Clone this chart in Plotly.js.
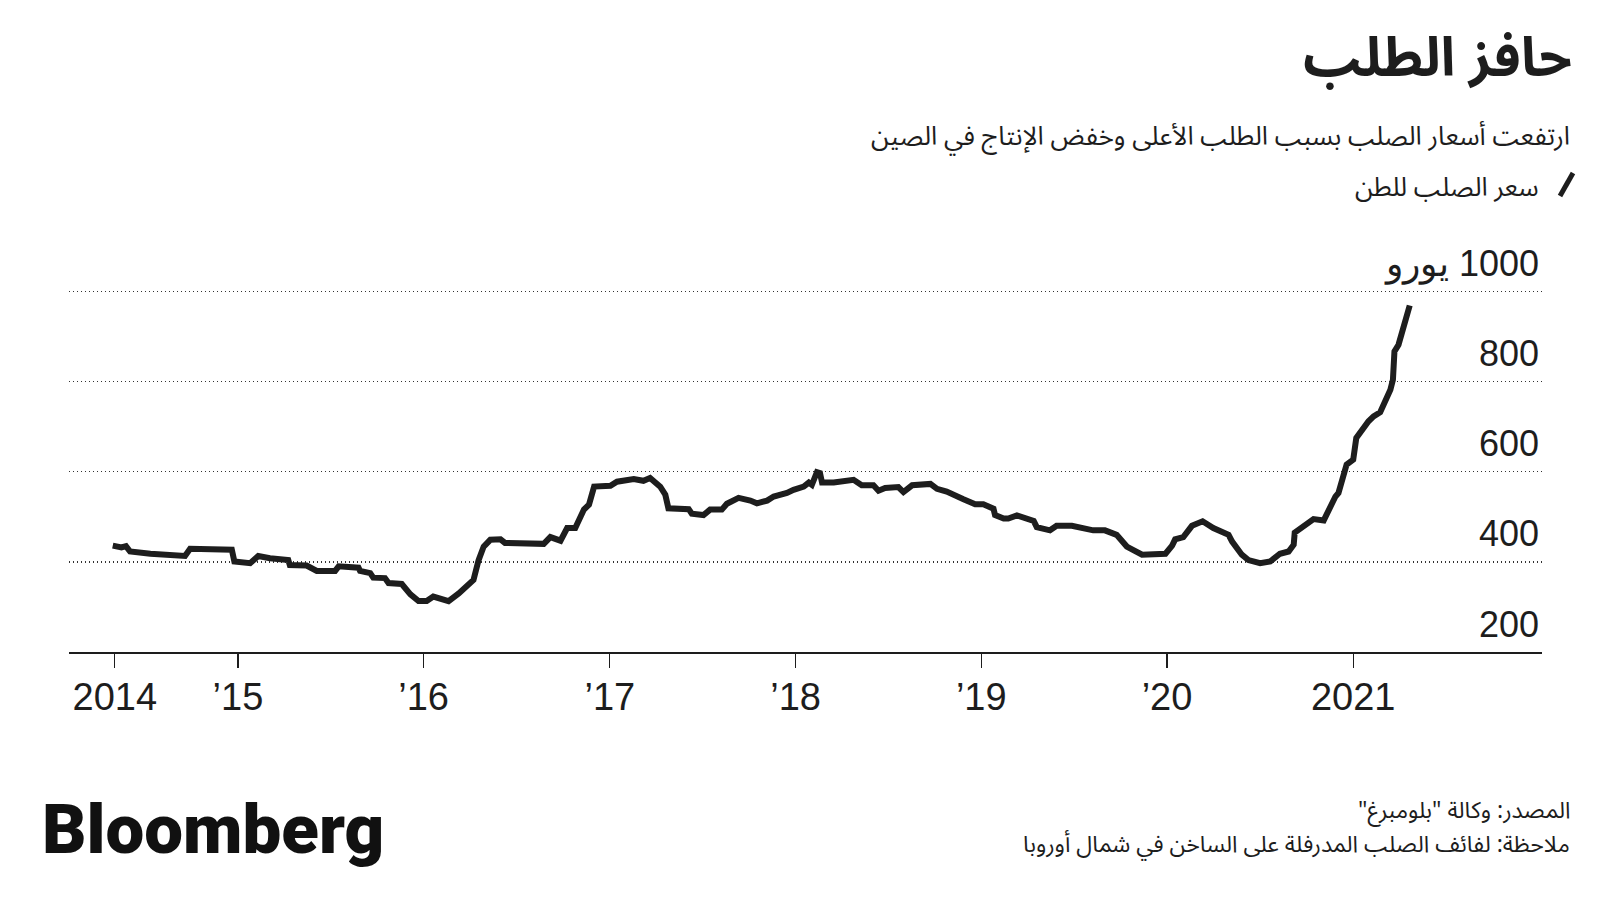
<!DOCTYPE html>
<html>
<head>
<meta charset="utf-8">
<script src="https://cdn.plot.ly/plotly-3.0.1.min.js"></script>
<style>
  html, body { margin: 0; padding: 0; background: #ffffff; }
  #chart { width: 1600px; height: 900px; }
</style>
</head>
<body>
<div id="chart"></div>
<script>
// ---- Data ----
const dates = [
  '2014-04-30','2014-05-17','2014-05-26','2014-06-03','2014-07-13','2014-09-19','2014-09-29','2014-12-20','2014-12-25',
  '2015-01-25','2015-02-10','2015-03-05','2015-04-10','2015-04-13','2015-05-16','2015-06-05','2015-07-11','2015-07-18',
  '2015-08-26','2015-08-29','2015-09-18','2015-09-24','2015-10-17','2015-10-24','2015-11-19','2015-12-06','2015-12-22',
  '2016-01-07','2016-01-20','2016-02-19','2016-03-10','2016-04-08','2016-04-18','2016-04-28','2016-05-11','2016-05-31',
  '2016-06-09','2016-08-24','2016-09-06','2016-09-26','2016-10-09','2016-10-25','2016-11-11','2016-11-21','2016-12-01',
  '2017-01-02','2017-01-15','2017-02-17','2017-03-08','2017-03-21','2017-04-10','2017-04-20','2017-04-26','2017-06-05',
  '2017-06-11','2017-07-04','2017-07-17','2017-08-09','2017-08-19','2017-09-11','2017-10-04','2017-10-17','2017-11-06',
  '2017-11-19','2017-12-15','2017-12-28','2018-01-17','2018-01-27','2018-02-02','2018-02-12','2018-02-18','2018-02-22',
  '2018-03-17','2018-04-25','2018-05-11','2018-06-03','2018-06-13','2018-06-26','2018-07-22','2018-08-01','2018-08-18',
  '2018-09-23','2018-10-06','2018-10-25','2018-11-27','2018-12-20','2019-01-05','2019-01-25','2019-01-28','2019-02-14',
  '2019-02-23','2019-03-12','2019-04-14','2019-04-20','2019-05-16','2019-05-29','2019-06-28','2019-07-21','2019-08-09',
  '2019-09-01','2019-09-24','2019-10-14','2019-11-13','2019-12-29','2020-01-11','2020-01-17','2020-02-02','2020-02-19',
  '2020-03-11','2020-04-01','2020-04-15','2020-05-01','2020-05-08','2020-05-27','2020-06-09','2020-07-02','2020-07-22',
  '2020-08-10','2020-08-27','2020-09-06','2020-09-08','2020-09-25','2020-10-15','2020-11-04','2020-11-13','2020-11-27',
  '2020-12-03','2020-12-19','2021-01-01','2021-01-07','2021-01-31','2021-02-10','2021-02-23','2021-03-15','2021-03-20',
  '2021-03-23','2021-03-31','2021-04-22'
];
const pricePerTon = [
  436,432,435,423,418,413,429,427,401,
  397,413,408,404,393,392,380,380,390,
  387,380,375,365,364,353,351,328,313,
  313,323,313,330,360,404,434,449,450,
  442,440,455,447,475,475,516,527,567,
  569,578,584,580,586,567,549,519,517,
  507,504,516,516,529,542,536,530,536,
  545,553,560,567,576,571,599,597,576,
  576,582,570,570,558,564,566,555,570,
  573,562,556,539,528,528,518,504,496,
  496,503,491,477,470,480,480,475,470,
  470,460,434,416,418,436,450,455,480,
  490,475,467,460,445,416,404,397,401,
  418,423,438,465,480,495,492,516,545,
  553,616,627,675,712,723,732,782,804,
  867,882,969
];

const xTickVals = ['2014-05-04','2015-01-01','2016-01-01','2017-01-01','2018-01-01','2019-01-01','2020-01-01','2021-01-01'];
const xTickText = ['2014','\u201915','\u201916','\u201917','\u201918','\u201919','\u201920','2021'];
const yTickVals = [200, 400, 600, 800, 1000];
const yTickText = ['200', '400', '600', '800', '\u064A\u0648\u0631\u0648\u200E 1000'];

const titleText = 'حافز الطلب';
const subtitleText = 'ارتفعت أسعار الصلب بسبب الطلب الأعلى وخفض الإنتاج في الصين';
const seriesName = 'سعر الصلب للطن';
const sourceText = '\u200Fالمصدر: وكالة "بلومبرغ"\u200F';
const noteText = '\u200Fملاحظة: لفائف الصلب المدرفلة على الساخن في شمال أوروبا\u200F';

// ---- Layout geometry ----
const W = 1600, H = 900;
const M = { l: 69, r: 58, t: 287, b: 248 };
const plotW = W - M.l - M.r, plotH = H - M.t - M.b;
const px2x = p => (p - M.l) / plotW;          // pixel -> paper x
const py2y = p => (H - M.b - p) / plotH;      // pixel -> paper y

const ARABIC = '"Noto Sans Arabic", "Noto Kufi Arabic", "DejaVu Sans", sans-serif';
const NUM = '"Liberation Sans", Arial, sans-serif';
const INK = '#1d1d1d';

const trace = {
  x: dates,
  y: pricePerTon,
  type: 'scatter',
  mode: 'lines',
  name: seriesName,
  line: { color: INK, width: 6, shape: 'linear' },
  hoverinfo: 'x+y',
  showlegend: false
};

const annotations = [];
// y-axis labels (above grid lines, right aligned)
yTickVals.forEach((v, i) => {
  annotations.push({
    xref: 'paper', yref: 'y', x: 1, y: v,
    xanchor: 'right', yanchor: 'middle', yshift: 28, xshift: -1,
    text: yTickText[i], showarrow: false,
    font: { family: NUM, size: 36, color: INK }
  });
});
// subtitle
annotations.push({
  xref: 'paper', yref: 'paper', x: px2x(1572), y: py2y(136),
  xanchor: 'right', yanchor: 'middle', showarrow: false,
  text: subtitleText, font: { family: ARABIC, size: 26, color: INK }
});
// legend text
annotations.push({
  xref: 'paper', yref: 'paper', x: px2x(1541), y: py2y(187),
  xanchor: 'right', yanchor: 'middle', showarrow: false,
  text: seriesName, font: { family: ARABIC, size: 26, color: INK }
});
// Bloomberg logo text
annotations.push({
  xref: 'paper', yref: 'paper', x: px2x(40), y: py2y(829),
  xanchor: 'left', yanchor: 'middle', showarrow: false,
  text: 'Bloomberg', font: { family: 'Roboto, "Liberation Sans", sans-serif', size: 69, weight: 900, color: '#111111' }
});
// source / note
annotations.push({
  xref: 'paper', yref: 'paper', x: px2x(1572), y: py2y(810),
  xanchor: 'right', yanchor: 'middle', align: 'right', showarrow: false,
  text: sourceText, font: { family: ARABIC, size: 23, color: INK }
});
annotations.push({
  xref: 'paper', yref: 'paper', x: px2x(1572), y: py2y(844),
  xanchor: 'right', yanchor: 'middle', align: 'right', showarrow: false,
  text: noteText, font: { family: ARABIC, size: 23, color: INK }
});

const layout = {
  width: W, height: H,
  margin: M,
  paper_bgcolor: '#ffffff',
  plot_bgcolor: '#ffffff',
  title: {
    text: titleText,
    xref: 'container', x: 1572 / W, xanchor: 'right',
    yref: 'container', y: 1 - 38 / H, yanchor: 'top',
    font: { family: ARABIC, size: 54, weight: 700, color: INK }
  },
  xaxis: {
    type: 'date',
    range: ['2014-02-03', '2022-01-07'],
    tickvals: xTickVals,
    ticktext: xTickText,
    ticks: 'outside', ticklen: 14, tickwidth: 1.2, tickcolor: INK,
    ticklabelstandoff: -4,
    showline: true, linecolor: INK, linewidth: 2,
    showgrid: false, zeroline: false,
    tickfont: { family: NUM, size: 38, color: INK },
    fixedrange: true
  },
  yaxis: {
    range: [200, 1010],
    tickvals: yTickVals,
    showticklabels: false,
    ticks: '',
    showgrid: true, gridcolor: '#333333', gridwidth: 1.3, griddash: '1.3px,2.7px',
    zeroline: false, showline: false,
    fixedrange: true
  },
  shapes: [{
    type: 'line', xref: 'paper', yref: 'paper',
    x0: px2x(1560), y0: py2y(196), x1: px2x(1573), y1: py2y(173),
    line: { color: INK, width: 5 }
  }],
  annotations: annotations,
  showlegend: false
};

Plotly.newPlot('chart', [trace], layout, { displayModeBar: false, staticPlot: true });
</script>
</body>
</html>
